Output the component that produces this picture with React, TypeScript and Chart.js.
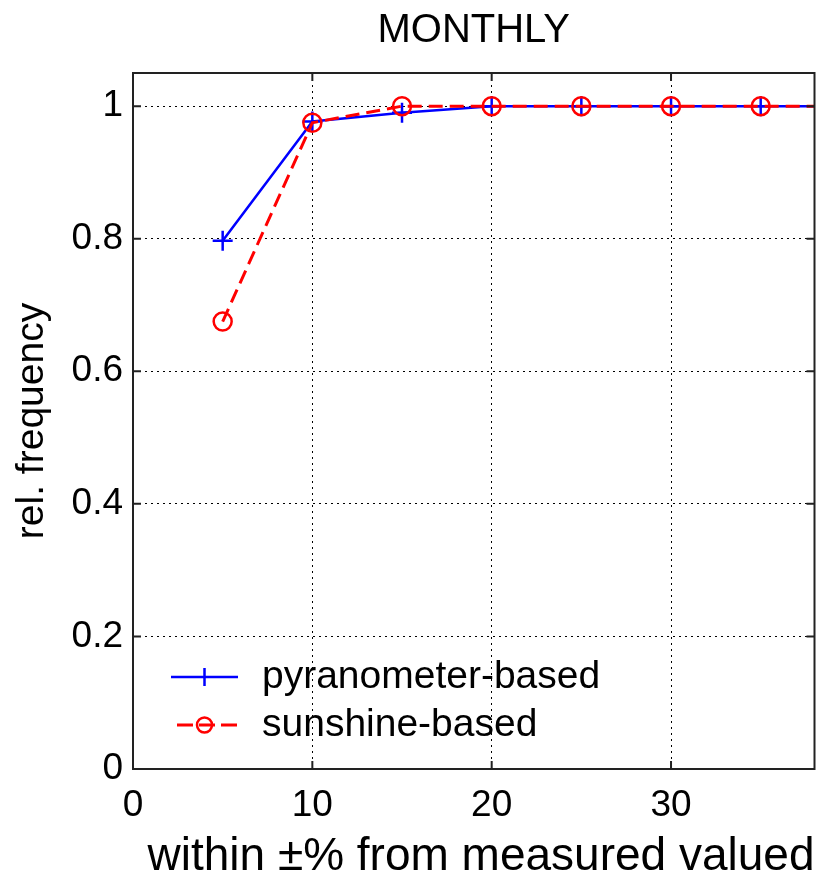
import React, { useEffect, useRef } from 'react';
import { Chart, registerables } from 'chart.js';

Chart.register(...registerables);

// ---- data ----
const thresholds = [5, 10, 15, 20, 25, 30, 35, 40];
const pyranometer = [0.797, 0.977, 0.99, 1, 1, 1, 1, 1];
const sunshine = [0.675, 0.975, 1, 1, 1, 1, 1, 1];
const xTicks = [0, 10, 20, 30];
const yTicks = [0, 0.2, 0.4, 0.6, 0.8, 1];
const seriesNames = ['pyranometer-based', 'sunshine-based'];
const titleText = 'MONTHLY';
const xLabel = 'within ±% from measured valued';
const yLabel = 'rel. frequency';

const FONT = '"Liberation Sans", Arial, Helvetica, sans-serif';
const BLUE = '#0000ff';
const RED = '#ff0000';

const boxPlugin = {
  id: 'boxAndTicks',
  afterDraw(chart: any) {
    const { ctx, chartArea: a, scales } = chart;
    ctx.save();
    ctx.strokeStyle = '#222';
    ctx.lineWidth = 2;
    ctx.setLineDash([]);
    ctx.strokeRect(a.left, a.top, a.right - a.left, a.bottom - a.top);
    const tl = 8;
    ctx.beginPath();
    xTicks.forEach((v) => {
      const px = scales.x.getPixelForValue(v);
      ctx.moveTo(px, a.bottom);
      ctx.lineTo(px, a.bottom - tl);
      ctx.moveTo(px, a.top);
      ctx.lineTo(px, a.top + tl);
    });
    yTicks.forEach((v) => {
      const py = scales.y.getPixelForValue(v);
      ctx.moveTo(a.left, py);
      ctx.lineTo(a.left + tl, py);
      ctx.moveTo(a.right, py);
      ctx.lineTo(a.right - tl, py);
    });
    ctx.stroke();
    ctx.restore();
  },
};

const legendPlugin = {
  id: 'insideLegend',
  afterDraw(chart: any) {
    const { ctx, chartArea: a } = chart;
    const x0 = a.left + 38;
    const x1 = a.left + 105;
    const xm = (x0 + x1) / 2;
    const rows = [a.bottom - 92, a.bottom - 44];
    ctx.save();
    // row 1: blue solid with plus
    ctx.strokeStyle = BLUE;
    ctx.lineWidth = 2.5;
    ctx.beginPath();
    ctx.moveTo(x0, rows[0]);
    ctx.lineTo(x1, rows[0]);
    ctx.moveTo(xm, rows[0] - 9);
    ctx.lineTo(xm, rows[0] + 9);
    ctx.stroke();
    // row 2: red dashed with circle
    ctx.strokeStyle = RED;
    ctx.lineWidth = 3;
    ctx.setLineDash([16, 6]);
    ctx.beginPath();
    ctx.moveTo(x0 + 6, rows[1]);
    ctx.lineTo(x1, rows[1]);
    ctx.stroke();
    ctx.setLineDash([]);
    ctx.lineWidth = 2.5;
    ctx.beginPath();
    ctx.arc(xm, rows[1], 7.5, 0, Math.PI * 2);
    ctx.stroke();
    // texts
    ctx.fillStyle = '#000';
    ctx.font = `39px ${FONT}`;
    ctx.textBaseline = 'middle';
    ctx.textAlign = 'left';
    ctx.fillText(seriesNames[0], a.left + 129, rows[0]);
    ctx.fillText(seriesNames[1], a.left + 129, rows[1]);
    ctx.restore();
  },
};

export default function App() {
  const ref = useRef<HTMLCanvasElement | null>(null);

  useEffect(() => {
    if (!ref.current) return;
    const chart = new Chart(ref.current, {
      type: 'line',
      data: {
        datasets: [
          {
            label: seriesNames[0],
            data: thresholds.map((x, i) => ({ x, y: pyranometer[i] })),
            borderColor: BLUE,
            backgroundColor: BLUE,
            borderWidth: 2.5,
            pointStyle: 'cross',
            pointRadius: 10,
            pointBorderWidth: 2.5,
            pointBorderColor: BLUE,
            tension: 0,
            clip: 0,
            order: 1,
          },
          {
            label: seriesNames[1],
            data: thresholds.map((x, i) => ({ x, y: sunshine[i] })),
            borderColor: RED,
            backgroundColor: 'rgba(0,0,0,0)',
            borderWidth: 3,
            borderDash: [14, 7],
            pointStyle: 'circle',
            pointRadius: 9,
            pointBorderWidth: 2.5,
            pointBorderColor: RED,
            pointBackgroundColor: 'rgba(0,0,0,0)',
            tension: 0,
            clip: 0,
            order: 0,
          },
        ] as any,
      },
      options: {
        animation: false,
        responsive: false,
        devicePixelRatio: 1,
        layout: { padding: { left: 0, right: 9, top: 0, bottom: 0 } },
        plugins: {
          legend: { display: false },
          tooltip: { enabled: false },
          title: {
            display: true,
            text: titleText,
            color: '#000',
            font: { family: FONT, size: 40, weight: 'normal' },
            padding: { top: 7, bottom: 18 },
            fullSize: false,
          },
        },
        scales: {
          x: {
            type: 'linear',
            min: 0,
            max: 38,
            afterBuildTicks: (s: any) => {
              s.ticks = xTicks.map((v) => ({ value: v }));
            },
            afterFit: (s: any) => {
              s.height = 109;
            },
            ticks: {
              color: '#000',
              font: { family: FONT, size: 37 },
              padding: 15,
              maxRotation: 0,
              autoSkip: false,
              callback: (v: any) => String(v),
            },
            grid: {
              color: '#000',
              lineWidth: 1,
              drawTicks: false,
            },
            border: { display: false, dash: [2, 4] },
            title: {
              display: true,
              text: xLabel,
              color: '#000',
              align: 'end',
              font: { family: FONT, size: 46, lineHeight: 0.9 },
              padding: { top: 0, bottom: 0 },
            },
          },
          y: {
            type: 'linear',
            min: 0,
            max: 1.05,
            afterBuildTicks: (s: any) => {
              s.ticks = yTicks.map((v) => ({ value: v }));
            },
            afterFit: (s: any) => {
              s.width = 133;
            },
            ticks: {
              color: '#000',
              font: { family: FONT, size: 37 },
              padding: 10,
              autoSkip: false,
              callback: (v: any) => String(Number(Number(v).toFixed(2))),
            },
            grid: {
              color: '#000',
              lineWidth: 1,
              drawTicks: false,
            },
            border: { display: false, dash: [2, 4] },
            title: {
              display: true,
              text: yLabel,
              color: '#000',
              font: { family: FONT, size: 39 },
              padding: { top: 9, bottom: 0 },
            },
          },
        },
      } as any,
      plugins: [boxPlugin, legendPlugin],
    });
    return () => chart.destroy();
  }, []);

  return (
    <div style={{ position: 'fixed', left: 0, top: 0, width: 827, height: 878, background: '#fff' }}>
      <canvas ref={ref} width={827} height={878} style={{ display: 'block' }} />
    </div>
  );
}
